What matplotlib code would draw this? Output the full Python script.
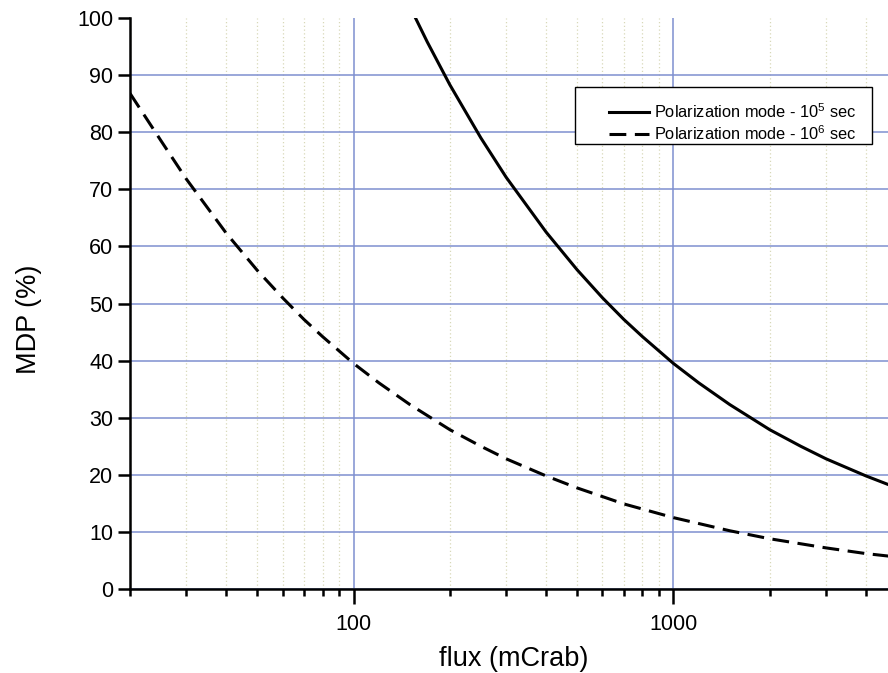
import matplotlib
matplotlib.use("Agg")
import matplotlib.pyplot as plt
from matplotlib.patches import Rectangle
from matplotlib.ticker import LogLocator, NullFormatter, FixedLocator, FixedFormatter

plt.rcParams["font.family"] = ["Liberation Sans", "DejaVu Sans"]
plt.rcParams["mathtext.default"] = "regular"

# values
flux_1e5 = [150, 170, 200, 250, 300, 400, 500, 600, 700, 800, 1000,
            1200, 1500, 2000, 2500, 3000, 4000, 5000]
mdp_1e5 = [102.0, 95.8, 88.3, 79.0, 72.1, 62.5, 55.9, 51.0, 47.2, 44.2, 39.5,
           36.1, 32.3, 27.9, 25.0, 22.8, 19.8, 17.7]

flux_1e6 = [20, 25, 30, 40, 50, 60, 70, 80, 100, 120, 150, 200, 250, 300,
            400, 500, 700, 1000, 1500, 2000, 3000, 4000, 5000]
mdp_1e6 = [86.8, 78.5, 71.8, 62.3, 55.8, 51.0, 47.2, 44.2, 39.5, 36.1, 32.3,
           27.9, 25.0, 22.8, 19.8, 17.7, 14.9, 12.5, 10.2, 8.8, 7.2, 6.2, 5.6]

labels = [r"Polarization mode - 10$^{5}$ sec",
          r"Polarization mode - 10$^{6}$ sec"]

fig = plt.figure(figsize=(8.88, 6.73), dpi=100)
ax = fig.add_axes([130 / 888, 1 - 589 / 673, 767 / 888, 571 / 673])

ax.set_xscale("log")
ax.set_xlim(20, 5000)
ax.set_ylim(0, 100)

# grid
ax.xaxis.set_major_locator(FixedLocator([100, 1000]))
ax.xaxis.set_major_formatter(FixedFormatter(["100", "1000"]))
ax.xaxis.set_minor_locator(LogLocator(base=10, subs=range(2, 10)))
ax.xaxis.set_minor_formatter(NullFormatter())
ax.set_yticks(range(0, 101, 10))

ax.grid(True, which="major", axis="both", color="#7f8fd0", linewidth=1.1)
ax.grid(True, which="minor", axis="x", color="#d8d8b8", linewidth=0.9,
        linestyle=(0, (1, 2)))
# no grid line along the top edge
ax.yaxis.get_major_ticks()[-1].gridline.set_visible(False)

ax.plot(flux_1e5, mdp_1e5, color="black", linewidth=2.2, label=labels[0])
ax.plot(flux_1e6, mdp_1e6, color="black", linewidth=2.2,
        linestyle=(0, (5.5, 2.8)), label=labels[1])

for side in ["top", "right"]:
    ax.spines[side].set_visible(False)
for side in ["left", "bottom"]:
    ax.spines[side].set_linewidth(1.8)

ax.tick_params(axis="both", which="major", direction="out", width=1.8,
               labelsize=15.5, colors="black")
ax.tick_params(axis="y", which="major", length=9, pad=3)
ax.tick_params(axis="x", which="major", length=11, pad=7)
ax.tick_params(axis="x", which="minor", direction="out", length=5, width=1.8)

ax.set_xlabel("flux (mCrab)", fontsize=19.5, labelpad=8)
ax.set_ylabel("MDP (%)", fontsize=19.5)
ax.yaxis.set_label_coords(-0.115, 0.473)

# legend box, wider on the left than the entries
ax.add_patch(Rectangle((575 / 888, 1 - 144 / 673), 297 / 888, 57 / 673,
                       transform=fig.transFigure, clip_on=False,
                       facecolor="white", edgecolor="black",
                       linewidth=1.0, zorder=4))

leg = ax.legend(loc="upper right", bbox_to_anchor=(856 / 888, 1 - 102 / 673),
                bbox_transform=fig.transFigure, fontsize=11.8, frameon=False,
                handlelength=2.4, handletextpad=0.3, borderpad=0.0,
                borderaxespad=0.0, labelspacing=0.2)
leg.set_zorder(5)

fig.savefig("out.png", dpi=100)
